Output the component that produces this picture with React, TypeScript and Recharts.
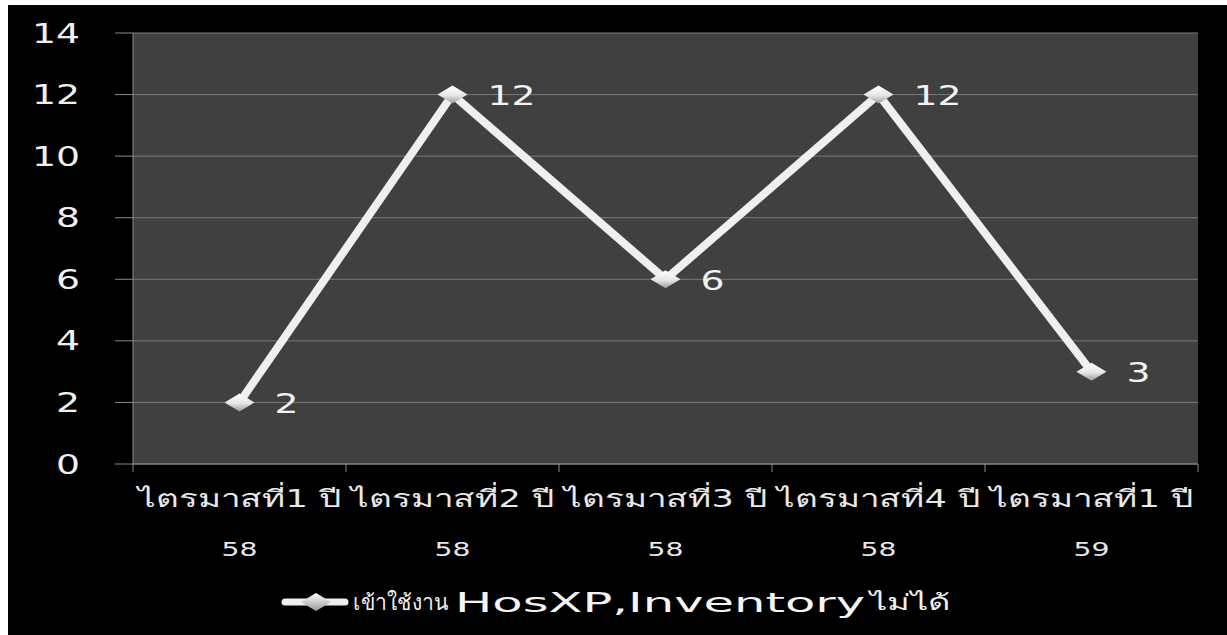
import React from "react";
import {
  LineChart,
  Line,
  XAxis,
  YAxis,
  CartesianGrid,
  Legend,
  LabelList,
} from "recharts";

const quarters = [
  "ไตรมาสที่1 ปี",
  "ไตรมาสที่2 ปี",
  "ไตรมาสที่3 ปี",
  "ไตรมาสที่4 ปี",
  "ไตรมาสที่1 ปี",
];
const years = ["58", "58", "58", "58", "59"];
const loginFailures = [2, 12, 6, 12, 3];
const yTicks = [0, 2, 4, 6, 8, 10, 12, 14];

const legendParts = ["เข้าใช้งาน", "HosXP,Inventory", "ไม่ได้"];
const seriesName = legendParts.join(" ");

const data = quarters.map((q, i) => ({
  key: `${q}|${years[i]}|${i}`,
  quarter: q,
  year: years[i],
  value: loginFailures[i],
}));

const FONT = "'DejaVu Sans', 'Noto Sans', sans-serif";
const AXIS_COLOR = "#8a8a8a";
const X_TICK_SIZE = 8;
// wide digit look: each numeral gets about 24px of width
const digitWidth = (s: string) => s.length * 24;

// Category labels sit in the middle of each band; the tick marks go on the band edges.
const XTick = (props: any) => {
  const { x, y, index, width, visibleTicksCount } = props;
  const band = width / (visibleTicksCount || quarters.length);
  const axisY = y - X_TICK_SIZE - 2;
  const isLast = index === (visibleTicksCount || quarters.length) - 1;
  return (
    <g>
      <line x1={x - band / 2} y1={axisY} x2={x - band / 2} y2={axisY + X_TICK_SIZE} stroke={AXIS_COLOR} />
      {isLast && (
        <line x1={x + band / 2} y1={axisY} x2={x + band / 2} y2={axisY + X_TICK_SIZE} stroke={AXIS_COLOR} />
      )}
      <text
        x={x}
        y={y + 25}
        textAnchor="middle"
        dominantBaseline="central"
        fill="#e8e8e8"
        fontSize={24}
        fontFamily={FONT}
        textLength={203}
        lengthAdjust="spacingAndGlyphs"
      >
        {quarters[index]}
      </text>
      <text
        x={x}
        y={y + 75}
        textAnchor="middle"
        dominantBaseline="central"
        fill="#e8e8e8"
        fontSize={19}
        fontFamily={FONT}
        textLength={36}
        lengthAdjust="spacingAndGlyphs"
      >
        {years[index]}
      </text>
    </g>
  );
};

const YTick = (props: any) => {
  const { y, payload } = props;
  const s = String(payload.value);
  return (
    <text
      x={72}
      y={y}
      textAnchor="end"
      dominantBaseline="central"
      fill="#f0f0f0"
      fontSize={27}
      fontFamily={FONT}
      textLength={digitWidth(s)}
      lengthAdjust="spacingAndGlyphs"
    >
      {s}
    </text>
  );
};

const Diamond = (props: any) => {
  const { cx, cy } = props;
  if (cx == null || cy == null) return null;
  return (
    <polygon
      points={`${cx - 15},${cy} ${cx},${cy - 9} ${cx + 15},${cy} ${cx},${cy + 9}`}
      fill="url(#diamondFill)"
    />
  );
};

const ValueLabel = (props: any) => {
  const { x, y, value } = props;
  const s = String(value);
  return (
    <text
      x={x + 35}
      y={y + 1}
      dominantBaseline="central"
      fill="#f2f2f2"
      fontSize={27}
      fontFamily={FONT}
      textLength={digitWidth(s)}
      lengthAdjust="spacingAndGlyphs"
    >
      {s}
    </text>
  );
};

const LegendContent = () => (
  <svg width={1219} height={50} style={{ display: "block", overflow: "visible" }}>
    <defs>
      <linearGradient id="legendDiamond" x1="0" y1="0" x2="0" y2="1">
        <stop offset="0%" stopColor="#ffffff" />
        <stop offset="100%" stopColor="#9a9a9a" />
      </linearGradient>
    </defs>
    <line x1={277} y1={25} x2={337} y2={25} stroke="#efefef" strokeWidth={7} strokeLinecap="round" />
    <polygon points="293,25 308,16 323,25 308,34" fill="url(#legendDiamond)" />
    <text x={345} y={25} dominantBaseline="central" fill="#f0f0f0" fontSize={22} fontFamily={FONT} textLength={95} lengthAdjust="spacingAndGlyphs">
      {legendParts[0]}
    </text>
    <text x={447} y={26} dominantBaseline="central" fill="#f4f4f4" fontSize={26} fontFamily={FONT} textLength={410} lengthAdjust="spacingAndGlyphs">
      {legendParts[1]}
    </text>
    <text x={862} y={25} dominantBaseline="central" fill="#f0f0f0" fontSize={22} fontFamily={FONT} textLength={80} lengthAdjust="spacingAndGlyphs">
      {legendParts[2]}
    </text>
  </svg>
);

export default function App() {
  return (
    <div style={{ position: "fixed", left: 8, top: 5, width: 1219, height: 630, background: "#000" }}>
      <LineChart
        width={1219}
        height={630}
        data={data}
        margin={{ top: 28, right: 29, left: 0, bottom: 8 }}
      >
        <defs>
          <linearGradient id="diamondFill" x1="0" y1="0" x2="0" y2="1">
            <stop offset="0%" stopColor="#ffffff" />
            <stop offset="55%" stopColor="#e6e6e6" />
            <stop offset="100%" stopColor="#9a9a9a" />
          </linearGradient>
        </defs>
        <CartesianGrid vertical={false} stroke="#7a7a7a" strokeWidth={1} fill="#404040" />
        <XAxis
          dataKey="key"
          height={113}
          tick={<XTick />}
          tickLine={false}
          tickSize={X_TICK_SIZE}
          axisLine={{ stroke: AXIS_COLOR }}
          interval={0}
          scale="band"
        />
        <YAxis
          width={125}
          domain={[0, 14]}
          ticks={yTicks}
          tick={<YTick />}
          tickSize={18}
          tickLine={{ stroke: AXIS_COLOR }}
          axisLine={{ stroke: AXIS_COLOR }}
        />
        <Legend verticalAlign="bottom" height={50} content={<LegendContent />} />
        <Line
          name={seriesName}
          dataKey="value"
          stroke="#efefef"
          strokeWidth={8}
          dot={<Diamond />}
          activeDot={false}
          isAnimationActive={false}
        >
          <LabelList dataKey="value" content={<ValueLabel />} />
        </Line>
      </LineChart>
    </div>
  );
}
